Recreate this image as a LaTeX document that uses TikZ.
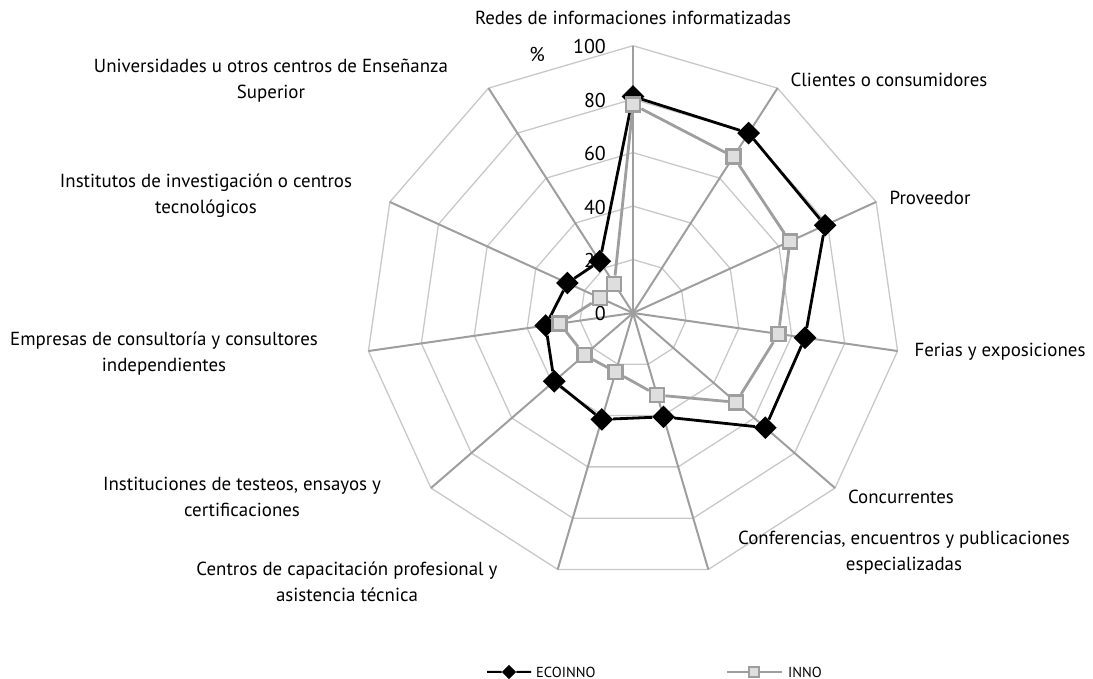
\documentclass[tikz,border=0pt]{standalone}
\usepackage{fontspec}
\setmainfont{PT Sans}
\usepackage{tikz}
\usepackage{xcolor}
\definecolor{ColGrid}{RGB}{200,200,200}
\definecolor{ColAxis}{RGB}{158,158,158}
\definecolor{ColInno}{RGB}{158,158,158}
\definecolor{ColInnoFill}{RGB}{222,222,222}
\tikzstyle{GridLine}=[ColGrid,line width=1.3pt]
\tikzstyle{AxisLine}=[ColAxis,line width=2pt]
\tikzstyle{EcoMark}=[rectangle,rotate=45,fill=black,inner sep=0pt,minimum size=16pt]
\tikzstyle{InnoMark}=[rectangle,draw=ColInno,fill=ColInnoFill,line width=2.5pt,inner sep=0pt,minimum size=14pt]
\tikzstyle{EcoLine}=[black,line width=2.8pt,line join=round]
\tikzstyle{InnoLine}=[ColInno,line width=2.8pt,line join=round]
\tikzstyle{AxisLabel}=[align=center,inner sep=0pt,font=\fontsize{18.9}{26}\selectfont]
\tikzstyle{ScaleLabel}=[anchor=east,inner sep=0pt,font=\fontsize{20}{22}\selectfont]
\tikzstyle{KeyLabel}=[anchor=west,inner sep=0pt,font=\fontsize{14.5}{16}\selectfont]
\def\U{2.673}

\begin{document}
\begin{tikzpicture}[x=1pt,y=1pt]
    \useasboundingbox (0,0) rectangle (1093,679);
    \begin{scope}[shift={(633,366)}]
        % web
        \foreach \r in {1,...,5}{
            \draw[GridLine] (90:\r*20*\U) \foreach \k in {1,...,10}{ -- ({90-\k*360/11}:\r*20*\U)} -- cycle;
        }
        \foreach \k in {0,...,10}
            \draw[AxisLine] (0,0) -- ({90-\k*360/11}:100*\U);
        % scale
        \foreach \v in {0,20,...,100}
            \node[ScaleLabel](s\v)at(-27,{\v*\U-1}){\v};
        \node[ScaleLabel](pct)at(-88,258){\%};
        % ECOINNO
        \node[EcoMark](e0)at(90:81*\U){};
        \node[EcoMark](e1)at(57.27:80*\U){};
        \node[EcoMark](e2)at(24.55:79*\U){};
        \node[EcoMark](e3)at(-8.18:65*\U){};
        \node[EcoMark](e4)at(-40.91:65.5*\U){};
        \node[EcoMark](e5)at(-73.64:40.5*\U){};
        \node[EcoMark](e6)at(-106.36:41.5*\U){};
        \node[EcoMark](e7)at(-139.09:39*\U){};
        \node[EcoMark](e8)at(-171.82:33*\U){};
        \node[EcoMark](e9)at(155.45:27*\U){};
        \node[EcoMark](e10)at(122.73:23*\U){};
        \draw[EcoLine](e0)--(e1)--(e2)--(e3)--(e4)--(e5)--(e6)--(e7)--(e8)--(e9)--(e10)--(e0);
        % INNO
        \node[InnoMark](i0)at(90:78*\U){};
        \node[InnoMark](i1)at(57.27:69.5*\U){};
        \node[InnoMark](i2)at(24.55:64.5*\U){};
        \node[InnoMark](i3)at(-8.18:55*\U){};
        \node[InnoMark](i4)at(-40.91:51*\U){};
        \node[InnoMark](i5)at(-73.64:32*\U){};
        \node[InnoMark](i6)at(-106.36:23*\U){};
        \node[InnoMark](i7)at(-139.09:24*\U){};
        \node[InnoMark](i8)at(-171.82:27.7*\U){};
        \node[InnoMark](i9)at(155.45:13.6*\U){};
        \node[InnoMark](i10)at(122.73:13*\U){};
        \draw[InnoLine](i0)--(i1)--(i2)--(i3)--(i4)--(i5)--(i6)--(i7)--(i8)--(i9)--(i10)--(i0);
    \end{scope}
    % category labels
    \node[AxisLabel](lRedes)at(633,661){Redes de informaciones informatizadas};
    \node[AxisLabel](lClientes)at(889,599){Clientes o consumidores};
    \node[AxisLabel](lProveedor)at(930,481){Proveedor};
    \node[AxisLabel](lFerias)at(1000,327){Ferias y exposiciones};
    \node[AxisLabel](lConcurrentes)at(901,182){Concurrentes};
    \node[AxisLabel](lConferencias)at(904,126){Conferencias, encuentros y publicaciones\\especializadas};
    \node[AxisLabel](lCentros)at(347,97){Centros de capacitación profesional y\\asistencia técnica};
    \node[AxisLabel](lInstituciones)at(242,182){Instituciones de testeos, ensayos y\\certificaciones};
    \node[AxisLabel](lEmpresas)at(164,325){Empresas de consultoría y consultores\\independientes};
    \node[AxisLabel](lInstitutos)at(206,483){Institutos de investigación o centros\\tecnológicos};
    \node[AxisLabel](lUniversidades)at(271,598){Universidades u otros centros de Enseñanza\\Superior};
    % key
    \coordinate(kEa)at(487,7);
    \coordinate(kEb)at(531,7);
    \node[EcoMark,minimum size=10pt](kE)at(509,7){};
    \draw[EcoLine,line width=2pt](kEa)--(kE)--(kEb);
    \node[KeyLabel](kEtext)at(536,7){ECOINNO};
    \coordinate(kIa)at(727,7);
    \coordinate(kIb)at(782,7);
    \node[InnoMark,minimum size=10pt,line width=1.8pt](kI)at(754,7){};
    \draw[InnoLine,line width=2pt](kIa)--(kI)--(kIb);
    \node[KeyLabel](kItext)at(788,7){INNO};
\end{tikzpicture}
\end{document}
